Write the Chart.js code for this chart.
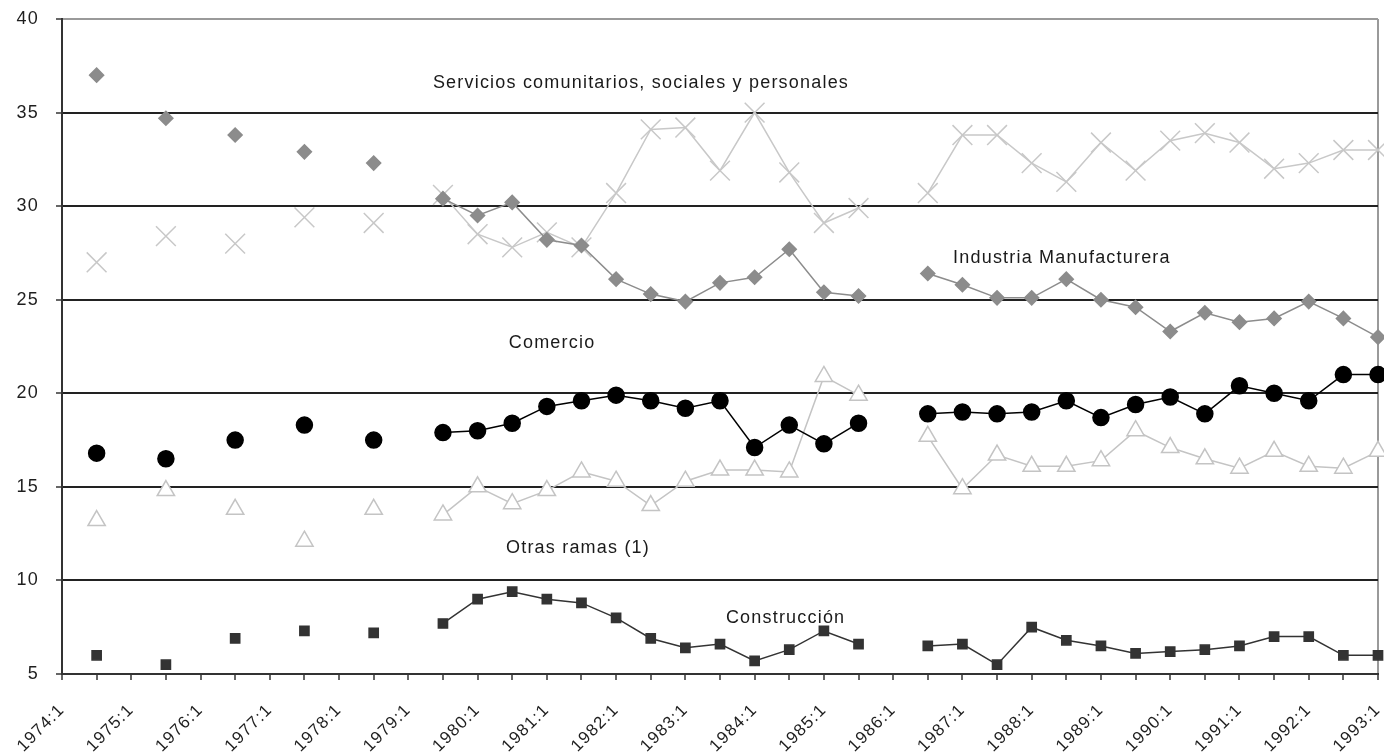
<!DOCTYPE html>
<html>
<head>
<meta charset="utf-8">
<script src="https://cdn.jsdelivr.net/npm/chart.js@4.4.1/dist/chart.umd.min.js"></script>
<style>
  html, body { margin: 0; padding: 0; background: #fff; }
  #wrap { width: 1384px; height: 754px; }
</style>
</head>
<body>
<div id="wrap"><canvas id="chart"></canvas></div>
<script>
// semestres, de 1974:1 a 1993:1
const semestres = [
  '1974:1', '1974:2', '1975:1', '1975:2', '1976:1', '1976:2', '1977:1', '1977:2',
  '1978:1', '1978:2', '1979:1', '1979:2', '1980:1', '1980:2', '1981:1', '1981:2',
  '1982:1', '1982:2', '1983:1', '1983:2', '1984:1', '1984:2', '1985:1', '1985:2',
  '1986:1', '1986:2', '1987:1', '1987:2', '1988:1', '1988:2', '1989:1', '1989:2',
  '1990:1', '1990:2', '1991:1', '1991:2', '1992:1', '1992:2', '1993:1'
]

const yTicks = [5, 10, 15, 20, 25, 30, 35, 40]

const industria = [null, 37.0, null, 34.7, null, 33.8, null, 32.9, null, 32.3, null, 30.4, 29.5, 30.2, 28.2, 27.9, 26.1, 25.3, 24.9, 25.9, 26.2, 27.7, 25.4, 25.2, null, 26.4, 25.8, 25.1, 25.1, 26.1, 25.0, 24.6, 23.3, 24.3, 23.8, 24.0, 24.9, 24.0, 23.0]
const servicios = [null, 27.0, null, 28.4, null, 28.0, null, 29.4, null, 29.1, null, 30.6, 28.5, 27.8, 28.6, 27.8, 30.7, 34.1, 34.2, 31.9, 35.0, 31.8, 29.1, 29.9, null, 30.7, 33.8, 33.8, 32.3, 31.3, 33.4, 31.9, 33.5, 33.9, 33.4, 32.0, 32.3, 33.0, 33.0]
const comercio = [null, 16.8, null, 16.5, null, 17.5, null, 18.3, null, 17.5, null, 17.9, 18.0, 18.4, 19.3, 19.6, 19.9, 19.6, 19.2, 19.6, 17.1, 18.3, 17.3, 18.4, null, 18.9, 19.0, 18.9, 19.0, 19.6, 18.7, 19.4, 19.8, 18.9, 20.4, 20.0, 19.6, 21.0, 21.0]
const otrasRamas = [null, 13.2, null, 14.8, null, 13.8, null, 12.1, null, 13.8, null, 13.5, 15.0, 14.1, 14.8, 15.8, 15.3, 14.0, 15.3, 15.9, 15.9, 15.8, 20.9, 19.9, null, 17.7, 14.9, 16.7, 16.1, 16.1, 16.4, 18.0, 17.1, 16.5, 16.0, 16.9, 16.1, 16.0, 16.9]
const construccion = [null, 6.0, null, 5.5, null, 6.9, null, 7.3, null, 7.2, null, 7.7, 9.0, 9.4, 9.0, 8.8, 8.0, 6.9, 6.4, 6.6, 5.7, 6.3, 7.3, 6.6, null, 6.5, 6.6, 5.5, 7.5, 6.8, 6.5, 6.1, 6.2, 6.3, 6.5, 7.0, 7.0, 6.0, 6.0]

const nombres = [
  'Servicios comunitarios, sociales y personales',
  'Industria Manufacturera',
  'Comercio',
  'Otras ramas (1)',
  'Construcción'
]

Chart.defaults.font.family = '"Liberation Sans", Arial, sans-serif'
Chart.defaults.font.size = 18
Chart.defaults.color = '#1e1e1e'

// rótulos dentro del gráfico (x en índice de semestre, y en %)
const rotulos = [
  { texto: nombres[0], x: 10.71, y: 36.6 },
  { texto: nombres[1], x: 25.73, y: 27.25 },
  { texto: nombres[2], x: 12.9, y: 22.7 },
  { texto: nombres[3], x: 12.82, y: 11.72 },
  { texto: nombres[4], x: 19.17, y: 7.97 }
]

const espaciado = {
  id: 'espaciado',
  beforeUpdate(chart) { chart.ctx.letterSpacing = '1.2px' },
  beforeDraw(chart) { chart.ctx.letterSpacing = '1.2px' }
}

const textos = {
  id: 'textos',
  afterDatasetsDraw(chart) {
    const { ctx, scales: { x, y } } = chart
    ctx.save()
    ctx.letterSpacing = '1.2px'
    ctx.font = '18px "Liberation Sans", Arial, sans-serif'
    ctx.fillStyle = '#1a1a1a'
    ctx.textAlign = 'left'
    ctx.textBaseline = 'middle'
    rotulos.forEach(r => {
      ctx.fillText(r.texto, x.getPixelForValue(r.x), y.getPixelForValue(r.y))
    })
    ctx.restore()
  }
}

function serie(label, data, color, estilo, radio, relleno) {
  return {
    label: label,
    data: data,
    borderColor: color,
    borderWidth: 1.5,
    pointStyle: estilo,
    pointRadius: radio,
    pointHoverRadius: radio,
    pointBorderColor: color,
    pointBackgroundColor: relleno,
    pointBorderWidth: 1.5,
    spanGaps: false,
    tension: 0,
    clip: false
  }
}

const config = {
  type: 'line',
  data: {
    labels: semestres,
    datasets: [
      serie(nombres[2], comercio, '#000000', 'circle', 8, '#000000'),
      serie(nombres[4], construccion, '#333333', 'rect', 6.5, '#333333'),
      serie(nombres[1], industria, '#8c8c8c', 'rectRot', 7, '#8c8c8c'),
      serie(nombres[3], otrasRamas, '#c4c4c4', 'triangle', 10, '#ffffff'),
      serie(nombres[0], servicios, '#c8c8c8', 'crossRot', 14, '#c8c8c8')
    ]
  },
  options: {
    responsive: true,
    maintainAspectRatio: false,
    animation: false,
    events: [],
    layout: {
      autoPadding: false,
      padding: { top: 19, right: 6, left: 0, bottom: 0 }
    },
    plugins: {
      legend: { display: false },
      tooltip: { enabled: false }
    },
    scales: {
      x: {
        offset: false,
        afterFit: (scale) => {
          scale.height = 80
          scale.paddingLeft = 0
          scale.paddingRight = 0
        },
        border: { color: '#333333', width: 2 },
        grid: {
          drawOnChartArea: true,
          color: (ctx) => ctx.index === semestres.length - 1 ? '#9a9a9a' : 'rgba(0,0,0,0)',
          lineWidth: 2,
          tickColor: '#333333',
          tickLength: 6,
          tickWidth: 1.5
        },
        ticks: {
          autoSkip: false,
          minRotation: 45,
          maxRotation: 45,
          padding: 20,
          font: { size: 17 },
          color: '#1e1e1e',
          callback: function (value, index) {
            return index % 2 === 0 ? semestres[index] : ''
          }
        }
      },
      y: {
        min: 5,
        max: 40,
        afterFit: (scale) => {
          scale.width = 62
          scale.paddingTop = 0
          scale.paddingBottom = 0
        },
        afterBuildTicks: (scale) => { scale.ticks = yTicks.map(v => ({ value: v })) },
        border: { color: '#333333', width: 2 },
        grid: {
          color: (ctx) => ctx.tick && ctx.tick.value === 40 ? '#9a9a9a' : '#222222',
          lineWidth: 2,
          tickColor: '#333333',
          tickLength: 6,
          tickWidth: 1.5
        },
        ticks: {
          padding: 17,
          font: { size: 18 },
          color: '#1e1e1e'
        }
      }
    }
  },
  plugins: [espaciado, textos]
}

try {
  new Chart(document.getElementById('chart'), config)
} catch (error) {
  console.error(`Error al dibujar el gráfico: ${error}`)
}
</script>
</body>
</html>
